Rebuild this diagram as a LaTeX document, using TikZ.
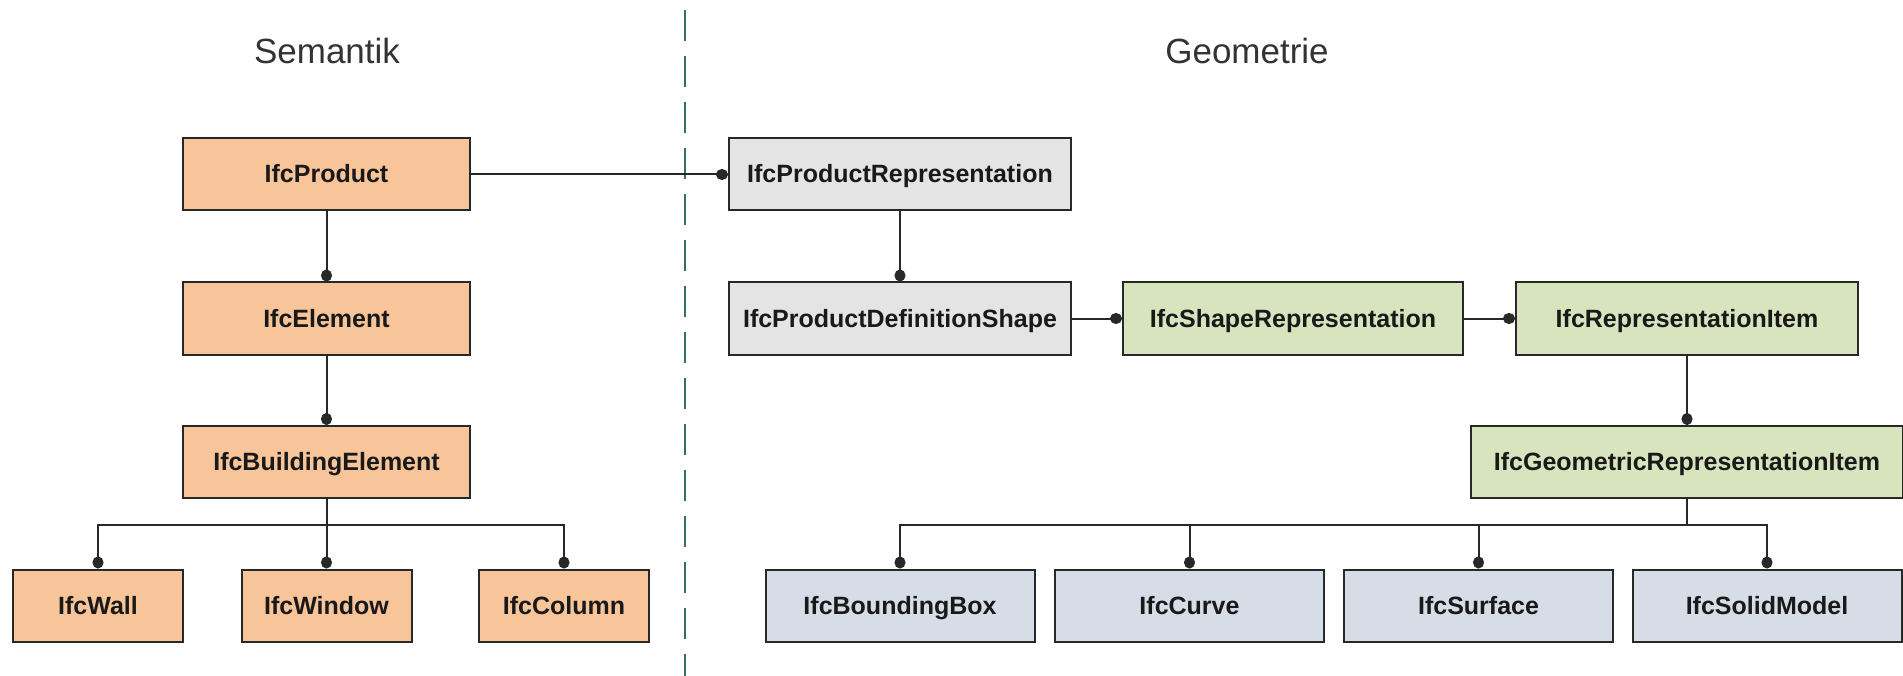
\documentclass[tikz,border=0pt]{standalone}
\usepackage{fontspec}
\setmainfont{Liberation Sans}
\usetikzlibrary{arrows.meta}
\definecolor{orng}{RGB}{248,197,154}
\definecolor{gry}{RGB}{228,228,228}
\definecolor{grn}{RGB}{216,228,190}
\definecolor{blu}{RGB}{214,221,231}
\definecolor{dgreen}{RGB}{55,112,82}
\definecolor{edgec}{RGB}{40,40,40}
\begin{document}
\begin{tikzpicture}[x=1pt,y=-1pt,
  box/.style={draw=edgec, line width=2pt, minimum height=72pt, inner sep=0pt,
    text height=18pt, text depth=1pt,
    font=\fontsize{25}{30}\selectfont\bfseries, text=black!90},
  conn/.style={draw=edgec, line width=2pt, -{Circle[length=12pt,width=11pt]}},
  plain/.style={draw=edgec, line width=2pt},
  title/.style={font=\fontsize{35}{42}\selectfont, text=black!80}]
\useasboundingbox (0,0) rectangle (1903,676);

% titles
\node[title] (tsem) at (327,51) {Semantik};
\node[title] (tgeo) at (1247,51) {Geometrie};

% separator
\coordinate (dtop) at (685,10);
\coordinate (dbot) at (685,676);
\draw[dgreen, line width=2pt, dash pattern=on 31pt off 15pt] (dtop) -- (dbot);

% semantic side
\node[box, fill=orng, minimum width=287pt] (prod) at (326.5,174.5) {IfcProduct};
\node[box, fill=orng, minimum width=287pt] (elem) at (326.5,318.5) {IfcElement};
\node[box, fill=orng, minimum width=287pt] (bel) at (326.5,462) {IfcBuildingElement};
\node[box, fill=orng, minimum width=170pt] (wall) at (98,605.5) {IfcWall};
\node[box, fill=orng, minimum width=170pt] (win) at (326.5,605.5) {IfcWindow};
\node[box, fill=orng, minimum width=170pt] (col) at (564,605.5) {IfcColumn};

% geometry side
\node[box, fill=gry, minimum width=342pt] (prep) at (900,174.5) {IfcProductRepresentation};
\node[box, fill=gry, minimum width=342pt] (pds) at (900,318.5) {IfcProductDefinitionShape};
\node[box, fill=grn, minimum width=340pt] (srep) at (1293,318.5) {IfcShapeRepresentation};
\node[box, fill=grn, minimum width=342pt] (ritem) at (1687,318.5) {IfcRepresentationItem};
\node[box, fill=grn, minimum width=432pt] (gitem) at (1687,462) {IfcGeometricRepresentationItem};
\node[box, fill=blu, minimum width=269pt] (bbox) at (900,605.5) {IfcBoundingBox};
\node[box, fill=blu, minimum width=269pt] (curve) at (1189.5,605.5) {IfcCurve};
\node[box, fill=blu, minimum width=269pt] (surf) at (1478.5,605.5) {IfcSurface};
\node[box, fill=blu, minimum width=269pt] (solid) at (1767,605.5) {IfcSolidModel};

% connectors semantic
\draw[conn] (prod.east) -- (prep.west);
\draw[conn] (prod.south) -- (elem.north);
\draw[conn] (elem.south) -- (bel.north);
\coordinate (bj) at (326.5,525);
\draw[plain] (bel.south) -- (bj);
\draw[conn] (bj) -| (wall.north);
\draw[conn] (bj) -- (win.north);
\draw[conn] (bj) -| (col.north);

% connectors geometry
\draw[conn] (prep.south) -- (pds.north);
\draw[conn] (pds.east) -- (srep.west);
\draw[conn] (srep.east) -- (ritem.west);
\draw[conn] (ritem.south) -- (gitem.north);
\coordinate (gj) at (1687,525);
\draw[plain] (gitem.south) -- (gj);
\draw[conn] (gj) -| (bbox.north);
\draw[conn] (gj) -| (curve.north);
\draw[conn] (gj) -| (surf.north);
\draw[conn] (gj) -| (solid.north);
\end{tikzpicture}
\end{document}
